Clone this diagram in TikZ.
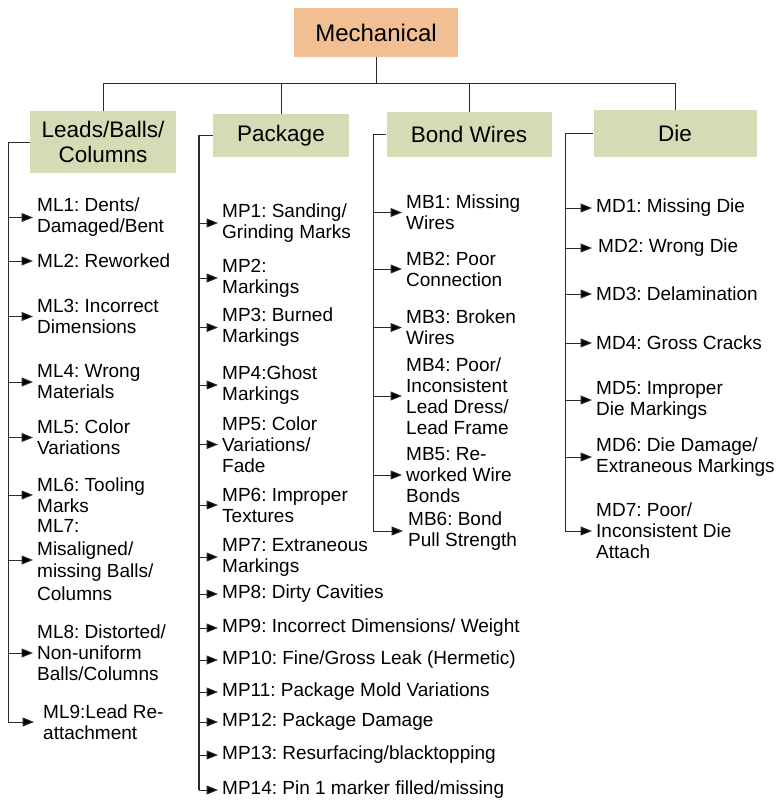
\documentclass[tikz,border=0pt]{standalone}
\usepackage{fontspec}
\setmainfont{Liberation Sans}
\usetikzlibrary{arrows.meta}
\definecolor{salmon}{HTML}{F2BE94}
\definecolor{sage}{HTML}{D4DBB5}
\definecolor{linegray}{HTML}{2A2A2A}
\frenchspacing
\tikzset{
  hdr/.style={fill=sage, align=center, inner sep=0pt, font=\fontsize{22.5}{25}\selectfont},
  item/.style={anchor=west, align=left, inner xsep=4pt, inner ysep=0pt, font=\fontsize{19}{21}\selectfont},
  conn/.style={draw=linegray, line width=1pt},
  arr/.style={conn, arrows={-Triangle[length=11.5pt, width=9pt, fill=black]}},
}
\begin{document}
\begin{tikzpicture}[x=1pt,y=-1pt]
\useasboundingbox (0,0) rectangle (776,801);
% header boxes
\node[hdr, fill=salmon, minimum width=164pt, minimum height=49pt, font=\fontsize{24}{28}\selectfont] (mech) at (376,32.5) {Mechanical};
\node[hdr, minimum width=146pt, minimum height=62pt] (leads) at (103,142) {Leads/Balls/\\Columns};
\node[hdr, minimum width=136pt, minimum height=43pt] (pkg) at (281,135.5) {Package};
\node[hdr, minimum width=165pt, minimum height=45pt] (bond) at (469,134.5) {Bond Wires};
\node[hdr, minimum width=163pt, minimum height=47pt] (die) at (675,133.5) {Die};
% tree connectors
\coordinate (bar) at (0,83);
\draw[conn] (mech.south) -- (mech.south |- bar);
\draw[conn] (leads.north) -- (leads.north |- bar) -- (die.north |- bar) -- (die.north);
\draw[conn] (pkg.north) -- (pkg.north |- bar);
\draw[conn] (bond.north) -- (bond.north |- bar);
% trunk x positions
\coordinate (tL) at (8,0);
\coordinate (tP) at (199,0);
\coordinate (tB) at (373,0);
\coordinate (tD) at (565,0);
% Leads column
\node[item] (ml1) at (33,217.5) {ML1: Dents/\\Damaged/Bent};
\node[item] (ml2) at (33,261) {ML2: Reworked};
\node[item] (ml3) at (33,316.5) {ML3: Incorrect\\Dimensions};
\node[item] (ml4) at (33,382) {ML4: Wrong\\Materials};
\node[item] (ml5) at (33,437.5) {ML5: Color\\Variations};
\node[item] (ml6) at (33,495) {ML6: Tooling\\Marks};
\node[item, font=\fontsize{19}{22.5}\selectfont] (ml7) at (33,560) {ML7:\\Misaligned/\\missing Balls/\\Columns};
\node[item] (ml8) at (33,653) {ML8: Distorted/\\Non-uniform\\Balls/Columns};
\node[item, inner xsep=9pt] (ml9) at (34,722) {ML9:Lead Re-\\attachment};
\foreach \n in {ml1,ml2,ml3,ml4,ml5,ml6,ml7,ml8}
  \draw[arr] (tL |- \n.west) -- (\n.west);
\draw[arr] (leads.west) -- (tL |- leads.west) |- (ml9.west);
% Package column
\node[item] (mp1) at (218,223) {MP1: Sanding/\\Grinding Marks};
\node[item] (mp2) at (218,278) {MP2:\\Markings};
\node[item] (mp3) at (218,327.5) {MP3: Burned\\Markings};
\node[item] (mp4) at (218,385) {MP4:Ghost\\Markings};
\node[item] (mp5) at (218,444.5) {MP5: Color\\Variations/\\Fade};
\node[item] (mp6) at (218,505) {MP6: Improper\\Textures};
\node[item] (mp7) at (218,557) {MP7: Extraneous\\Markings};
\node[item] (mp8) at (218,594) {MP8: Dirty Cavities};
\node[item] (mp9) at (218,628) {MP9: Incorrect Dimensions/ Weight};
\node[item] (mp10) at (218,660) {MP10: Fine/Gross Leak (Hermetic)};
\node[item] (mp11) at (218,692) {MP11: Package Mold Variations};
\node[item] (mp12) at (218,722) {MP12: Package Damage};
\node[item] (mp13) at (218,755) {MP13: Resurfacing/blacktopping};
\node[item] (mp14) at (218,790) {MP14: Pin 1 marker filled/missing};
\draw[conn, line width=1.6pt] (pkg.west) -- (tP |- pkg.west) -- (tP |- mp14.west);
\foreach \n in {mp1,mp2,mp3,mp4,mp5,mp6,mp7,mp8,mp9,mp10,mp11,mp12,mp13,mp14}
  \draw[arr] (tP |- \n.west) -- (\n.west);
% Bond wires column
\node[item] (mb1) at (402,212.5) {MB1: Missing\\Wires};
\node[item] (mb2) at (402,269) {MB2: Poor\\Connection};
\node[item] (mb3) at (402,327.5) {MB3: Broken\\Wires};
\node[item] (mb4) at (402,396) {MB4: Poor/\\Inconsistent\\Lead Dress/\\Lead Frame};
\node[item] (mb5) at (402,475) {MB5: Re-\\worked Wire\\Bonds};
\node[item, inner xsep=5pt] (mb6) at (403,531) {MB6: Bond\\Pull Strength};
\foreach \n in {mb1,mb2,mb3,mb4,mb5}
  \draw[arr] (tB |- \n.west) -- (\n.west);
\draw[arr] (bond.west) -- (tB |- bond.west) |- (mb6.west);
% Die column
\node[item] (md1) at (592,208) {MD1: Missing Die};
\node[item, inner xsep=6pt] (md2) at (592,248) {MD2: Wrong Die};
\node[item] (md3) at (592,294) {MD3: Delamination};
\node[item] (md4) at (592,343) {MD4: Gross Cracks};
\node[item] (md5) at (592,400) {MD5: Improper\\Die Markings};
\node[item] (md6) at (592,457) {MD6: Die Damage/\\Extraneous Markings};
\node[item] (md7) at (592,531) {MD7: Poor/\\Inconsistent Die\\Attach};
\foreach \n in {md1,md2,md3,md4,md5,md6}
  \draw[arr] (tD |- \n.west) -- (\n.west);
\draw[arr] (die.west) -- (tD |- die.west) |- (md7.west);
\end{tikzpicture}
\end{document}
